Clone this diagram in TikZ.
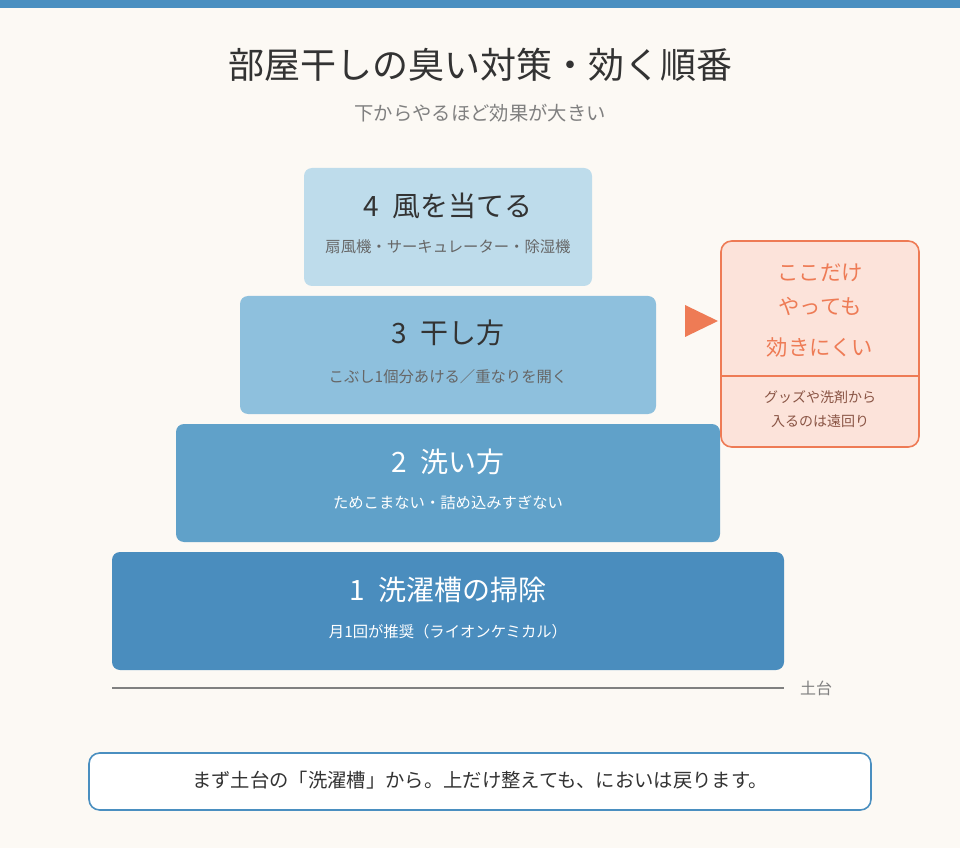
\documentclass[tikz,border=0pt]{standalone}
\usepackage{fontspec}
\setmainfont{Noto Sans CJK JP}
\usetikzlibrary{positioning}
\definecolor{bgpaper}{HTML}{FCF9F4}
\definecolor{barblue}{HTML}{4A8FC0}
\definecolor{lvlone}{HTML}{4A8DBE}
\definecolor{lvltwo}{HTML}{60A1C9}
\definecolor{lvlthree}{HTML}{8EC0DD}
\definecolor{lvlfour}{HTML}{BEDCEB}
\definecolor{warn}{HTML}{EE7B55}
\definecolor{warnfill}{HTML}{FCE3DA}
\definecolor{warntext}{HTML}{8A5545}
\definecolor{ink}{HTML}{333333}
\tikzset{
	layer/.style={draw=none, rounded corners=6pt},
	layertitle/.style={font=\fontsize{21}{24}\selectfont},
	layersub/.style={font=\fontsize{11.5}{14}\selectfont},
}
\begin{document}
\begin{tikzpicture}[x=0.75pt, y=-0.75pt]
	\fill[bgpaper] (0,0) rectangle (960,848);
	\useasboundingbox (0,0) rectangle (960,848);
	\fill[barblue] (0,0) rectangle (960,8);
	% title
	\node[ink, font=\fontsize{27}{30}\selectfont] (title) at (480,65) {部屋干しの臭い対策・効く順番};
	\node[black!50, font=\fontsize{14.5}{17}\selectfont] (subtitle) at (480,113) {下からやるほど効果が大きい};
	% pyramid
	\fill[layer, lvlfour] (304,168) rectangle (592,286);
	\node[layertitle, ink] (t4) at (448,206) {4\ \ 風を当てる};
	\node[layersub, black!60] (s4) at (448,247) {扇風機・サーキュレーター・除湿機};
	\fill[layer, lvlthree] (240,296) rectangle (656,414);
	\node[layertitle, ink] (t3) at (448,333) {3\ \ 干し方};
	\node[layersub, black!60] (s3) at (448,377) {こぶし1個分あける／重なりを開く};
	\fill[layer, lvltwo] (176,424) rectangle (720,542);
	\node[layertitle, white] (t2) at (448,462) {2\ \ 洗い方};
	\node[layersub, white] (s2) at (448,503) {ためこまない・詰め込みすぎない};
	\fill[layer, lvlone] (112,552) rectangle (784,670);
	\node[layertitle, white] (t1) at (448,590) {1\ \ 洗濯槽の掃除};
	\node[layersub, white] (s1) at (448,632) {月1回が推奨（ライオンケミカル）};
	% base
	\draw[black!50, line width=1.5pt] (112,688) -- (784,688);
	\node[black!50, font=\fontsize{12}{14}\selectfont] (base) at (816,688) {土台};
	% callout
	\fill[warn] (685,305) -- (718,321) -- (685,337) -- cycle;
	\draw[warn, fill=warnfill, line width=1.2pt, rounded corners=8pt] (721,241) rectangle (919,447);
	\draw[warn, line width=0.8pt] (721,376) -- (919,376);
	\node[warn, font=\fontsize{16}{19}\selectfont] (c1) at (820,273) {ここだけ};
	\node[warn, font=\fontsize{16}{19}\selectfont] (c2) at (820,306) {やっても};
	\node[warn, font=\fontsize{16}{19}\selectfont] (c3) at (820,347) {効きにくい};
	\node[warntext, font=\fontsize{10.5}{13}\selectfont] (c4) at (820,397) {グッズや洗剤から};
	\node[warntext, font=\fontsize{10.5}{13}\selectfont] (c5) at (820,421) {入るのは遠回り};
	% note
	\draw[barblue, fill=white, line width=1.2pt, rounded corners=8pt] (89,753) rectangle (871,810);
	\node[ink, font=\fontsize{14.5}{17}\selectfont] (note) at (480,780) {まず土台の「洗濯槽」から。上だけ整えても、においは戻ります。};
\end{tikzpicture}
\end{document}
